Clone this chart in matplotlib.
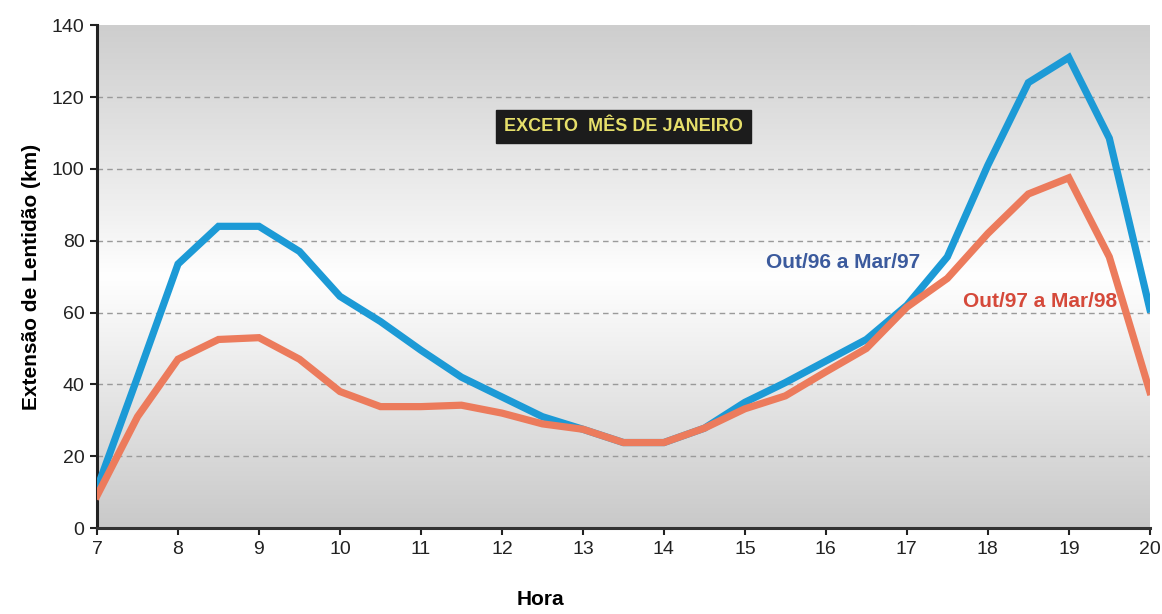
import numpy as np
import matplotlib
matplotlib.use("Agg")
import matplotlib.pyplot as plt
from matplotlib.colors import LinearSegmentedColormap

# Traffic congestion length by hour of day (km)
horas = [7, 7.5, 8, 8.5, 9, 9.5, 10, 10.5, 11, 11.5, 12, 12.5, 13, 13.5,
         14, 14.5, 15, 15.5, 16, 16.5, 17, 17.5, 18, 18.5, 19, 19.5, 20]
out96_mar97 = [11, 42, 73.5, 84, 84, 77, 64.5, 57.5, 49.5, 42, 36.5, 31, 27.5, 23.8,
               23.8, 27.8, 35, 40.5, 46.5, 52.5, 62, 75.5, 101, 124, 131, 108.5, 61]
out97_mar98 = [9, 31, 47, 52.5, 53, 47, 38, 33.8, 33.8, 34.2, 32, 29, 27.5, 23.8,
               23.8, 27.8, 33.2, 36.8, 43.5, 50, 61.5, 69.5, 82, 93, 97.5, 75.5, 38]
x_ticks = list(range(7, 21))
y_ticks = list(range(0, 141, 20))

serie_labels = ["Out/96 a Mar/97", "Out/97 a Mar/98"]
nota = "EXCETO  MÊS DE JANEIRO"

BLUE = "#1c9ad6"
ORANGE = "#ec7b5c"

plt.rcParams["font.family"] = ["Liberation Sans", "DejaVu Sans"]

fig = plt.figure(figsize=(11.62, 6.14), dpi=100)
ax = fig.add_axes([0.0835, 0.140, 0.906, 0.819])

# Vertical grey gradient behind the plot
grad_cmap = LinearSegmentedColormap.from_list(
    "bg", [(0.0, "#c9c9c9"), (0.50, "#ffffff"), (0.62, "#f1f1f1"), (1.0, "#cecece")])
grad = np.linspace(0, 1, 256).reshape(-1, 1)
ax.imshow(grad, aspect="auto", cmap=grad_cmap, extent=[0, 1, 0, 1],
          transform=ax.transAxes, zorder=0, origin="lower")

ax.set_xlim(7, 20)
ax.set_ylim(0, 140)

for yv in y_ticks[1:-1]:
    ax.axhline(yv, color="#9a9a9a", lw=1.0, ls=(0, (4, 3)), zorder=1)

ax.plot(horas, out96_mar97, color=BLUE, lw=5.2, solid_joinstyle="miter", zorder=3)
ax.plot(horas, out97_mar98, color=ORANGE, lw=5.2, solid_joinstyle="miter", zorder=4)

ax.set_xticks(x_ticks)
ax.set_yticks(y_ticks)
ax.tick_params(axis="both", labelsize=14, colors="#222222", length=5, width=1.5,
               direction="out", pad=4)

for side in ["top", "right"]:
    ax.spines[side].set_visible(False)
ax.spines["left"].set_linewidth(2.2)
ax.spines["left"].set_color("#222222")
ax.spines["bottom"].set_linewidth(2.2)
ax.spines["bottom"].set_color("#333333")

ax.set_ylabel("Extensão de Lentidão (km)", fontsize=15, fontweight="bold", labelpad=8)
fig.text(0.465, 0.008, "Hora", fontsize=15, fontweight="bold",
         ha="center", va="bottom")

ax.text(17.16, 74, serie_labels[0], color="#3b5a9d", fontsize=15, fontweight="bold",
        ha="right", va="center", zorder=5)
ax.text(19.6, 63, serie_labels[1], color="#d5493a", fontsize=15, fontweight="bold",
        ha="right", va="center", zorder=5)

ax.text(0.50, 0.799, nota, transform=ax.transAxes, color="#e6df6a", fontsize=13,
        fontweight="bold", ha="center", va="center", zorder=6,
        bbox=dict(boxstyle="square,pad=0.45", fc="#1c1c1c", ec="#1c1c1c"))

fig.savefig("out.png", dpi=100, facecolor="white")
